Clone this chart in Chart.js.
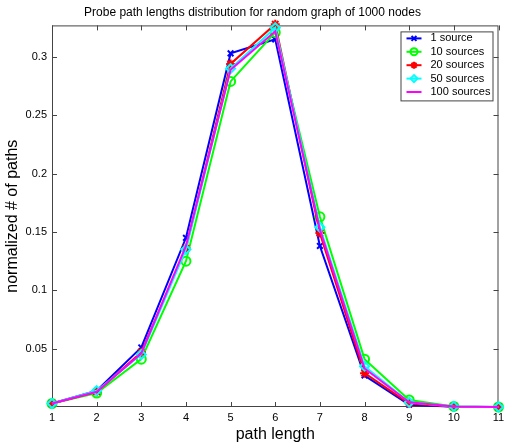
<!DOCTYPE html>
<html>
<head>
<meta charset="utf-8">
<script src="https://cdn.jsdelivr.net/npm/chart.js@4.4.0/dist/chart.umd.min.js"></script>
<style>
  body { margin: 0; background: #fff; }
  #wrap { width: 505px; height: 447px; }
</style>
</head>
<body>
<div id="wrap"><canvas id="grafik"></canvas></div>
<script>
const pathLengths = [1, 2, 3, 4, 5, 6, 7, 8, 9, 10, 11];
const yTicks = [0.05, 0.1, 0.15, 0.2, 0.25, 0.3];

const labels = ['1 source', '10 sources', '20 sources', '50 sources', '100 sources'];
const src1   = [0.003, 0.014, 0.051, 0.145, 0.303, 0.315, 0.138, 0.027, 0.002, 0.0003, 0];
const src10  = [0.003, 0.012, 0.041, 0.125, 0.279, 0.321, 0.163, 0.041, 0.006, 0.0005, 0];
const src20  = [0.003, 0.013, 0.047, 0.136, 0.294, 0.328, 0.149, 0.029, 0.003, 0.0003, 0];
const src50  = [0.003, 0.014, 0.045, 0.135, 0.290, 0.325, 0.154, 0.035, 0.004, 0.0005, 0];
const src100 = [0.003, 0.013, 0.046, 0.138, 0.289, 0.322, 0.152, 0.033, 0.004, 0.0004, 0];

const FONT = 'Liberation Sans, Arial, sans-serif';

function serie(label, values, color, pointStyle, radius, order) {
    return {
        label: label,
        data: values.map((v, i) => ({ x: pathLengths[i], y: v })),
        borderColor: color,
        backgroundColor: 'rgba(0,0,0,0)',
        pointBorderColor: color,
        pointBackgroundColor: pointStyle === 'star' ? color : 'rgba(0,0,0,0)',
        pointStyle: pointStyle || 'circle',
        pointRadius: radius,
        pointBorderWidth: 2,
        borderWidth: 2,
        tension: 0,
        clip: false,
        order: order
    };
}

const datasets = [
    serie(labels[0], src1, '#0000ff', 'crossRot', 4, 5),
    serie(labels[1], src10, '#00ff00', 'circle', 4.5, 4),
    serie(labels[2], src20, '#ff0000', 'star', 4.5, 3),
    serie(labels[3], src50, '#00ffff', 'rectRot', 4.5, 2),
    serie(labels[4], src100, '#ff00ff', false, 0, 1)
];

// kotak sumbu + tick ke dalam, seperti matlab
const boxPlugin = {
    id: 'boxPlugin',
    beforeDatasetsDraw(chart) {
        const { ctx, chartArea: a, scales } = chart;
        ctx.save();
        ctx.strokeStyle = '#444';
        ctx.lineWidth = 1;
        ctx.strokeRect(a.left + 0.5, a.top + 0.5, a.right - a.left - 1, a.bottom - a.top - 1);
        ctx.beginPath();
        pathLengths.forEach(v => {
            const x = Math.round(scales.x.getPixelForValue(v)) + 0.5;
            ctx.moveTo(x, a.bottom); ctx.lineTo(x, a.bottom - 5);
            ctx.moveTo(x, a.top); ctx.lineTo(x, a.top + 5);
        });
        yTicks.forEach(v => {
            const y = Math.round(scales.y.getPixelForValue(v)) + 0.5;
            ctx.moveTo(a.left, y); ctx.lineTo(a.left + 5, y);
            ctx.moveTo(a.right, y); ctx.lineTo(a.right - 5, y);
        });
        ctx.stroke();
        ctx.restore();
    },
    // legenda di dalam area plot
    afterDatasetsDraw(chart) {
        const { ctx, chartArea: a } = chart;
        const w = 92, h = 69;
        const left = a.right - 6 - w, top = a.top + 6;
        ctx.save();
        ctx.fillStyle = '#fff';
        ctx.fillRect(left, top, w, h);
        ctx.strokeStyle = '#444';
        ctx.lineWidth = 1;
        ctx.strokeRect(left + 0.5, top + 0.5, w, h);
        ctx.font = '11px ' + FONT;
        ctx.textBaseline = 'middle';
        chart.data.datasets.forEach((ds, i) => {
            const y = top + 7 + i * 13.4;
            ctx.strokeStyle = ds.borderColor;
            ctx.lineWidth = 2;
            ctx.beginPath();
            ctx.moveTo(left + 6, y);
            ctx.lineTo(left + 21, y);
            ctx.stroke();
            if (ds.pointRadius > 0) {
                ctx.fillStyle = ds.pointBackgroundColor;
                ctx.strokeStyle = ds.borderColor;
                ctx.lineWidth = 2;
                Chart.helpers.drawPoint(ctx, {
                    pointStyle: ds.pointStyle,
                    radius: 3.5,
                    borderWidth: 2,
                    rotation: 0
                }, left + 13.5, y);
            }
            ctx.fillStyle = '#000';
            ctx.fillText(ds.label, left + 30, y);
        });
        ctx.restore();
    }
};

const config = {
    type: 'line',
    data: { datasets: datasets },
    options: {
        responsive: true,
        maintainAspectRatio: false,
        animation: false,
        devicePixelRatio: 1,
        layout: { padding: 0 },
        plugins: {
            legend: { display: false },
            tooltip: { enabled: false },
            title: {
                display: true,
                text: 'Probe path lengths distribution for random graph of 1000 nodes',
                color: '#000',
                font: { family: FONT, size: 12, weight: 'normal' },
                padding: { top: 5, bottom: 6 }
            }
        },
        scales: {
            x: {
                type: 'linear',
                min: 1,
                max: 11,
                afterFit: s => { s.height = 40; s.paddingRight = 6; s.paddingLeft = 0; },
                afterBuildTicks: s => { s.ticks = pathLengths.map(v => ({ value: v })); },
                grid: { display: false, drawTicks: false },
                border: { display: false },
                ticks: { color: '#000', padding: 4, font: { family: FONT, size: 11 }, maxRotation: 0 },
                title: {
                    display: true,
                    text: 'path length',
                    color: '#000',
                    font: { family: FONT, size: 16 },
                    padding: { top: 0, bottom: 3 }
                }
            },
            y: {
                min: 0,
                max: 0.327,
                afterFit: s => { s.width = 52; },
                afterBuildTicks: s => { s.ticks = yTicks.map(v => ({ value: v })); },
                grid: { display: false, drawTicks: false },
                border: { display: false },
                ticks: {
                    color: '#000',
                    padding: 5,
                    font: { family: FONT, size: 11 },
                    callback: v => String(v)
                },
                title: {
                    display: true,
                    text: 'normalized # of paths',
                    color: '#000',
                    font: { family: FONT, size: 16 },
                    padding: { top: 3, bottom: 0 }
                }
            }
        }
    },
    plugins: [boxPlugin]
};

const chart = new Chart(document.getElementById('grafik'), config);
</script>
</body>
</html>
